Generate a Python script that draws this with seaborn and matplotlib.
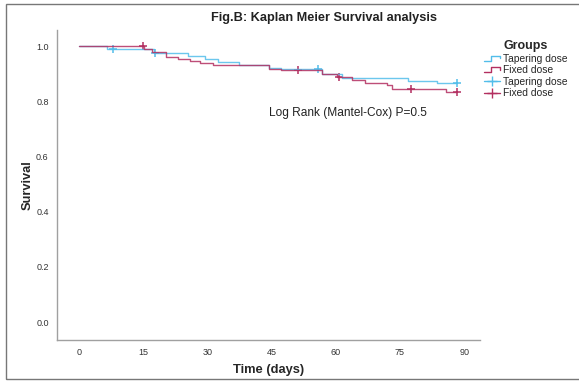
import numpy as np
import pandas as pd
import seaborn as sns
import matplotlib
matplotlib.use("Agg")
import matplotlib.pyplot as plt
from matplotlib.lines import Line2D
from matplotlib.legend_handler import HandlerBase
from matplotlib.patches import Rectangle

# ---------------- data ----------------
groups = ["Tapering dose", "Fixed dose"]
taper_times = [0, 6.5, 17.5, 25.5, 29.5, 32.5, 37.5, 44.5, 47.3, 56.7, 61.4, 76.9, 83.6, 88.3]
taper_surv = [1.0, 0.990, 0.975, 0.964, 0.954, 0.943, 0.930, 0.921, 0.917, 0.900, 0.884, 0.875, 0.865, 0.865]
taper_censor = [8.0, 17.8, 55.8, 88.3]
fixed_times = [0, 15.2, 17.0, 20.3, 23.2, 25.9, 28.3, 31.3, 44.5, 47.3, 56.9, 60.3,
               63.9, 66.8, 71.9, 73.1, 85.7, 88.3]
fixed_surv = [1.0, 0.990, 0.978, 0.962, 0.953, 0.945, 0.938, 0.931, 0.917, 0.912, 0.897, 0.889,
              0.877, 0.865, 0.857, 0.844, 0.835, 0.835]
fixed_censor = [15.0, 51.3, 60.8, 77.7, 88.3]
x_ticks = [0, 15, 30, 45, 60, 75, 90]
y_ticks = [0.0, 0.2, 0.4, 0.6, 0.8, 1.0]
title = "Fig.B: Kaplan Meier Survival analysis"
annotation = "Log Rank (Mantel-Cox) P=0.5"

colors = {"Tapering dose": "#52bdea", "Fixed dose": "#b32f60"}

sns.set_theme(style="white")
plt.rcParams["font.family"] = ["Liberation Sans", "DejaVu Sans"]

curves = pd.concat([
    pd.DataFrame({"time": taper_times, "surv": taper_surv, "group": groups[0]}),
    pd.DataFrame({"time": fixed_times, "surv": fixed_surv, "group": groups[1]}),
])

def surv_at(times, surv, t):
    idx = np.searchsorted(times, t, side="right") - 1
    return surv[idx]

censor = pd.concat([
    pd.DataFrame({"time": taper_censor,
                  "surv": [surv_at(taper_times, taper_surv, t) for t in taper_censor],
                  "group": groups[0]}),
    pd.DataFrame({"time": fixed_censor,
                  "surv": [surv_at(fixed_times, fixed_surv, t) for t in fixed_censor],
                  "group": groups[1]}),
])

fig = plt.figure(figsize=(5.79, 3.83), dpi=100)
ax = fig.add_axes([57 / 579, 1 - 340 / 383, (480 - 57) / 579, (340 - 30) / 383])

for g in groups:
    d = curves[curves.group == g]
    sns.lineplot(data=d, x="time", y="surv", ax=ax, color=colors[g],
                 drawstyle="steps-post", lw=1.0, alpha=0.85, legend=False,
                 estimator=None, sort=False)
    c = censor[censor.group == g]
    sns.scatterplot(data=c, x="time", y="surv", ax=ax, color=colors[g],
                    marker="+", s=28, linewidth=1.1, legend=False)

ax.set_xlim(-5.1, 93.7)
ax.set_ylim(-0.065, 1.058)
ax.set_xticks(x_ticks)
ax.set_xticklabels([str(t) for t in x_ticks])
ax.set_yticks(y_ticks)
ax.set_yticklabels([f"{t:.1f}" for t in y_ticks])
ax.tick_params(axis="both", length=0, labelsize=6.5, colors="#333333", pad=6)
for s in ["top", "right"]:
    ax.spines[s].set_visible(False)
for s in ["left", "bottom"]:
    ax.spines[s].set_color("#a0a0a0")
    ax.spines[s].set_linewidth(1.0)
ax.set_xlabel("Time (days)", fontsize=9.3, fontweight="bold", labelpad=5)
ax.set_ylabel("Survival", fontsize=9.3, fontweight="bold", labelpad=2)

ax.text(62.9, 0.757, annotation, fontsize=8.6, ha="center", va="center", color="#222222")

fig.text(324 / 579, 1 - 18 / 383, title, fontsize=9.2, fontweight="bold",
         ha="center", va="center", color="#222222")

# legend
class StepHandler(HandlerBase):
    def create_artists(self, legend, orig_handle, xdescent, ydescent, width, height, fontsize, trans):
        x0 = -xdescent
        y0 = -ydescent
        xs = [x0, x0 + 0.45 * width, x0 + 0.45 * width, x0 + width, x0 + width]
        ys = [y0 + 0.15 * height, y0 + 0.15 * height, y0 + 0.85 * height, y0 + 0.85 * height, y0 + 0.45 * height]
        ln = Line2D(xs, ys, color=orig_handle.get_color(), lw=1.0)
        ln.set_transform(trans)
        return [ln]

h_step = [Line2D([], [], color=colors[g]) for g in groups]
h_cens = [Line2D([], [], color=colors[g], marker="+", markersize=7, lw=1.0) for g in groups]
handles = h_step + h_cens
labels = groups + groups
hmap = {h: StepHandler() for h in h_step}
leg = fig.legend(handles, labels, handler_map=hmap, loc="upper left",
                 bbox_to_anchor=(477 / 579, 1 - 33 / 383), frameon=False,
                 fontsize=7.4, title="Groups", handlelength=1.5, handletextpad=0.3,
                 labelspacing=0.15, borderpad=0.2)
leg.get_title().set_fontweight("bold")
leg.get_title().set_fontsize(9)
leg._legend_box.align = "center"

# outer frame
fig.patches.append(Rectangle((6 / 579, 4 / 383), 1.2, 1 - 8 / 383, transform=fig.transFigure,
                             fill=False, edgecolor="#777777", lw=1.0))

fig.savefig("out.png", dpi=100)
